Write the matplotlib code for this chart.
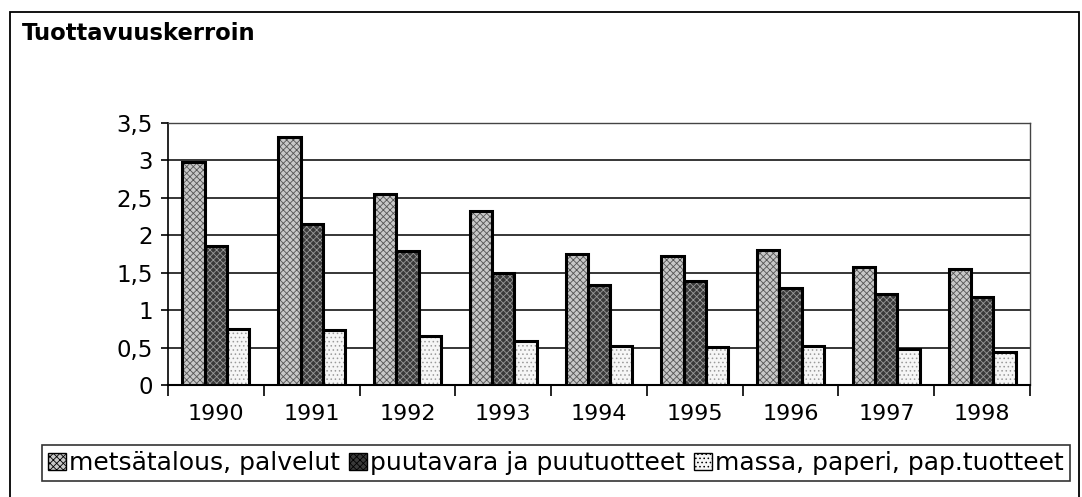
import matplotlib
matplotlib.use('Agg')
import matplotlib.pyplot as plt
import numpy as np
from matplotlib.patches import Rectangle, Patch
from matplotlib.ticker import FuncFormatter, FixedLocator

plt.rcParams['font.family'] = ['DejaVu Sans']
plt.rcParams['hatch.linewidth'] = 0.6

years = ['1990', '1991', '1992', '1993', '1994', '1995', '1996', '1997', '1998']
metsatalous = [2.98, 3.31, 2.55, 2.33, 1.75, 1.72, 1.80, 1.57, 1.55]
puutavara = [1.86, 2.15, 1.79, 1.50, 1.34, 1.39, 1.29, 1.21, 1.18]
massa = [0.75, 0.73, 0.65, 0.59, 0.52, 0.51, 0.52, 0.48, 0.44]
series_names = ['metsätalous, palvelut', 'puutavara ja puutuotteet',
                'massa, paperi, pap.tuotteet']

# fill, hatch, hatch colour for each series
styles = [('#c8c8c8', 'xxxxx', '#555555'),
          ('#3a3a3a', 'xxxxx', '#9a9a9a'),
          ('#f6f6f6', '....', '#9a9a9a')]

fig = plt.figure(figsize=(10.82, 4.97), dpi=100)
fig.patch.set_facecolor('white')
ax = fig.add_axes([168/1082, 1-385/497, (1030-168)/1082, (385-123)/497])

x = np.arange(len(years))
w = 0.233
handles = []
for i, (vals, (fc, hatch, hc)) in enumerate(zip([metsatalous, puutavara, massa], styles)):
    pos = x + (i - 1) * w
    ax.bar(pos, vals, w, color=fc, hatch=hatch, edgecolor=hc, linewidth=0, zorder=3)
    ax.bar(pos, vals, w, fill=False, edgecolor='black', linewidth=2.2, zorder=4)
    handles.append(Patch(facecolor=fc, hatch=hatch, edgecolor='black', linewidth=1.0))

ax.set_xlim(-0.5, len(years) - 0.5)
ax.set_ylim(0, 3.5)
ax.set_yticks(np.arange(0, 3.51, 0.5))
ax.yaxis.set_major_formatter(FuncFormatter(lambda v, p: ('%g' % v).replace('.', ',')))
ax.grid(axis='y', color='black', linewidth=1.1, zorder=1)

ax.set_xticks(x)
ax.set_xticklabels(years)
ax.xaxis.set_minor_locator(FixedLocator(np.arange(-0.5, len(years), 1.0)))
ax.tick_params(axis='x', which='major', length=0, pad=14, labelsize=16)
ax.tick_params(axis='x', which='minor', length=8, width=1.2, direction='out')
ax.tick_params(axis='y', length=5, width=1.2, direction='out', pad=6, labelsize=16.5)

for s in ['top', 'right']:
    ax.spines[s].set_color('#444444')
    ax.spines[s].set_linestyle((0, (1, 1)))
    ax.spines[s].set_linewidth(1.0)
ax.spines['left'].set_linewidth(1.2)
ax.spines['bottom'].set_linewidth(1.5)

leg = ax.legend(handles, series_names, loc='center', ncol=3,
                bbox_to_anchor=(556/1082, 1-463/497), bbox_transform=fig.transFigure,
                fontsize=18, frameon=True, fancybox=False, edgecolor='black',
                handlelength=0.7, handleheight=0.7, handletextpad=0.15,
                columnspacing=0.35, borderpad=0.25, borderaxespad=0)
leg.get_frame().set_linewidth(1.2)

# outer chart frame
fig.patches.append(Rectangle((10/1082, -0.02), (1079-10)/1082, 1.02-12/497,
                             transform=fig.transFigure, fill=False,
                             edgecolor='black', linewidth=1.3))

fig.text(22/1082, 1-33/497, 'Tuottavuuskerroin', fontsize=16.3, fontweight='bold',
         ha='left', va='center')

fig.savefig('out.png', dpi=100, facecolor='white')
